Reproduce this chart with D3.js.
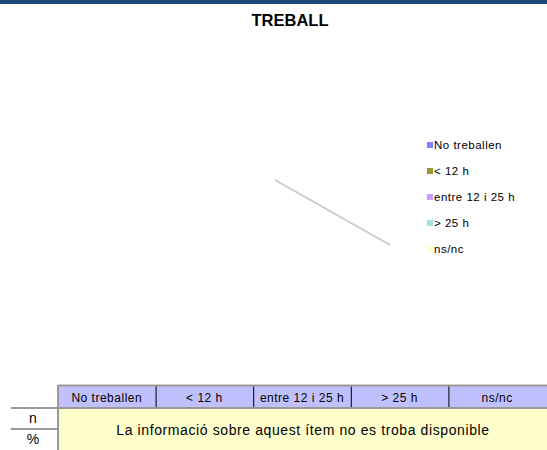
<!DOCTYPE html>
<html>
<head>
<meta charset="utf-8">
<script src="https://cdn.jsdelivr.net/npm/d3@7"></script>
<style>
  body { margin: 0; background: #fff; }
  svg { display: block; font-family: "Liberation Sans", Arial, sans-serif; }
</style>
</head>
<body>
<svg width="547" height="450"></svg>
<script>
const title = 'TREBALL';
const categories = ['No treballen', '< 12 h', 'entre 12 i 25 h', '> 25 h', 'ns/nc'];
const colors = ['#8080ff', '#999933', '#cc99ff', '#a0e0e0', '#ffffcc'];
const counts = [null, null, null, null, null];
const rowLabels = ['n', '%'];
const message = 'La informació sobre aquest ítem no es troba disponible';

const svg = d3.select('svg'),
  width = +svg.attr('width'),
  height = +svg.attr('height');

// top band
svg.append('rect')
  .attr('width', width)
  .attr('height', 4)
  .attr('fill', '#1f497d');

svg.append('text')
  .attr('x', 290)
  .attr('y', 26)
  .attr('text-anchor', 'middle')
  .style('font-size', '16.5px')
  .style('font-weight', 'bold')
  .text(title);

// empty pie leftover: a single leader line
const px = d3.scaleLinear().domain([0, 1]).range([275, 390]);
const py = d3.scaleLinear().domain([0, 1]).range([180, 245]);
svg.append('line')
  .attr('x1', px(0)).attr('y1', py(0))
  .attr('x2', px(1)).attr('y2', py(1))
  .attr('stroke', '#c8c8c0')
  .attr('stroke-width', 1.5);

// legend
const ly = d3.scalePoint().domain(categories).range([145, 249]);
const legend = svg.selectAll('.legend')
  .data(categories)
  .enter()
  .append('g')
  .attr('class', 'legend')
  .attr('transform', d => `translate(427, ${ly(d)})`);

legend.append('rect')
  .attr('y', -3)
  .attr('width', 6)
  .attr('height', 6)
  .attr('fill', (d, i) => colors[i]);

legend.append('text')
  .attr('x', 7)
  .attr('y', 4)
  .style('font-size', '11.5px')
  .style('letter-spacing', '0.5px')
  .text(d => d);

// table
const tx = d3.scaleBand().domain(categories).range([58, 546]);
const tTop = 386, headH = 22, rowH = 21;

svg.append('rect')
  .attr('x', 58).attr('y', tTop)
  .attr('width', width - 58).attr('height', headH)
  .attr('fill', '#c0c0ff');

svg.append('rect')
  .attr('x', 58).attr('y', tTop + headH)
  .attr('width', width - 58).attr('height', height - tTop - headH)
  .attr('fill', '#ffffcc');

svg.selectAll('.sep')
  .data(categories.slice(1))
  .enter()
  .append('line')
  .attr('x1', d => tx(d) + 0.5).attr('x2', d => tx(d) + 0.5)
  .attr('y1', tTop).attr('y2', tTop + headH)
  .attr('stroke', '#000');

svg.selectAll('.head')
  .data(categories)
  .enter()
  .append('text')
  .attr('x', d => tx(d) + tx.bandwidth() / 2)
  .attr('y', tTop + 15.5)
  .attr('text-anchor', 'middle')
  .style('font-size', '12px')
  .style('letter-spacing', '0.5px')
  .text(d => d);

const grey = '#999999';
svg.append('line')
  .attr('x1', 58).attr('x2', width)
  .attr('y1', tTop - 0.5).attr('y2', tTop - 0.5)
  .attr('stroke', grey).attr('stroke-width', 2);
svg.append('line')
  .attr('x1', 11).attr('x2', width)
  .attr('y1', tTop + headH).attr('y2', tTop + headH)
  .attr('stroke', grey).attr('stroke-width', 2);
svg.append('line')
  .attr('x1', 11).attr('x2', 58)
  .attr('y1', tTop + headH + rowH).attr('y2', tTop + headH + rowH)
  .attr('stroke', grey).attr('stroke-width', 2);
svg.append('line')
  .attr('x1', 58).attr('x2', 58)
  .attr('y1', tTop - 1).attr('y2', height)
  .attr('stroke', grey).attr('stroke-width', 2);

svg.selectAll('.rowlab')
  .data(rowLabels)
  .enter()
  .append('text')
  .attr('x', 33)
  .attr('y', (d, i) => tTop + headH + 15 + i * rowH)
  .attr('text-anchor', 'middle')
  .style('font-size', '14px')
  .text(d => d);

svg.append('text')
  .attr('x', 303)
  .attr('y', 435)
  .attr('text-anchor', 'middle')
  .style('font-size', '14px')
  .style('letter-spacing', '0.6px')
  .text(counts.every(v => v == null) ? message : '');
</script>
</body>
</html>
